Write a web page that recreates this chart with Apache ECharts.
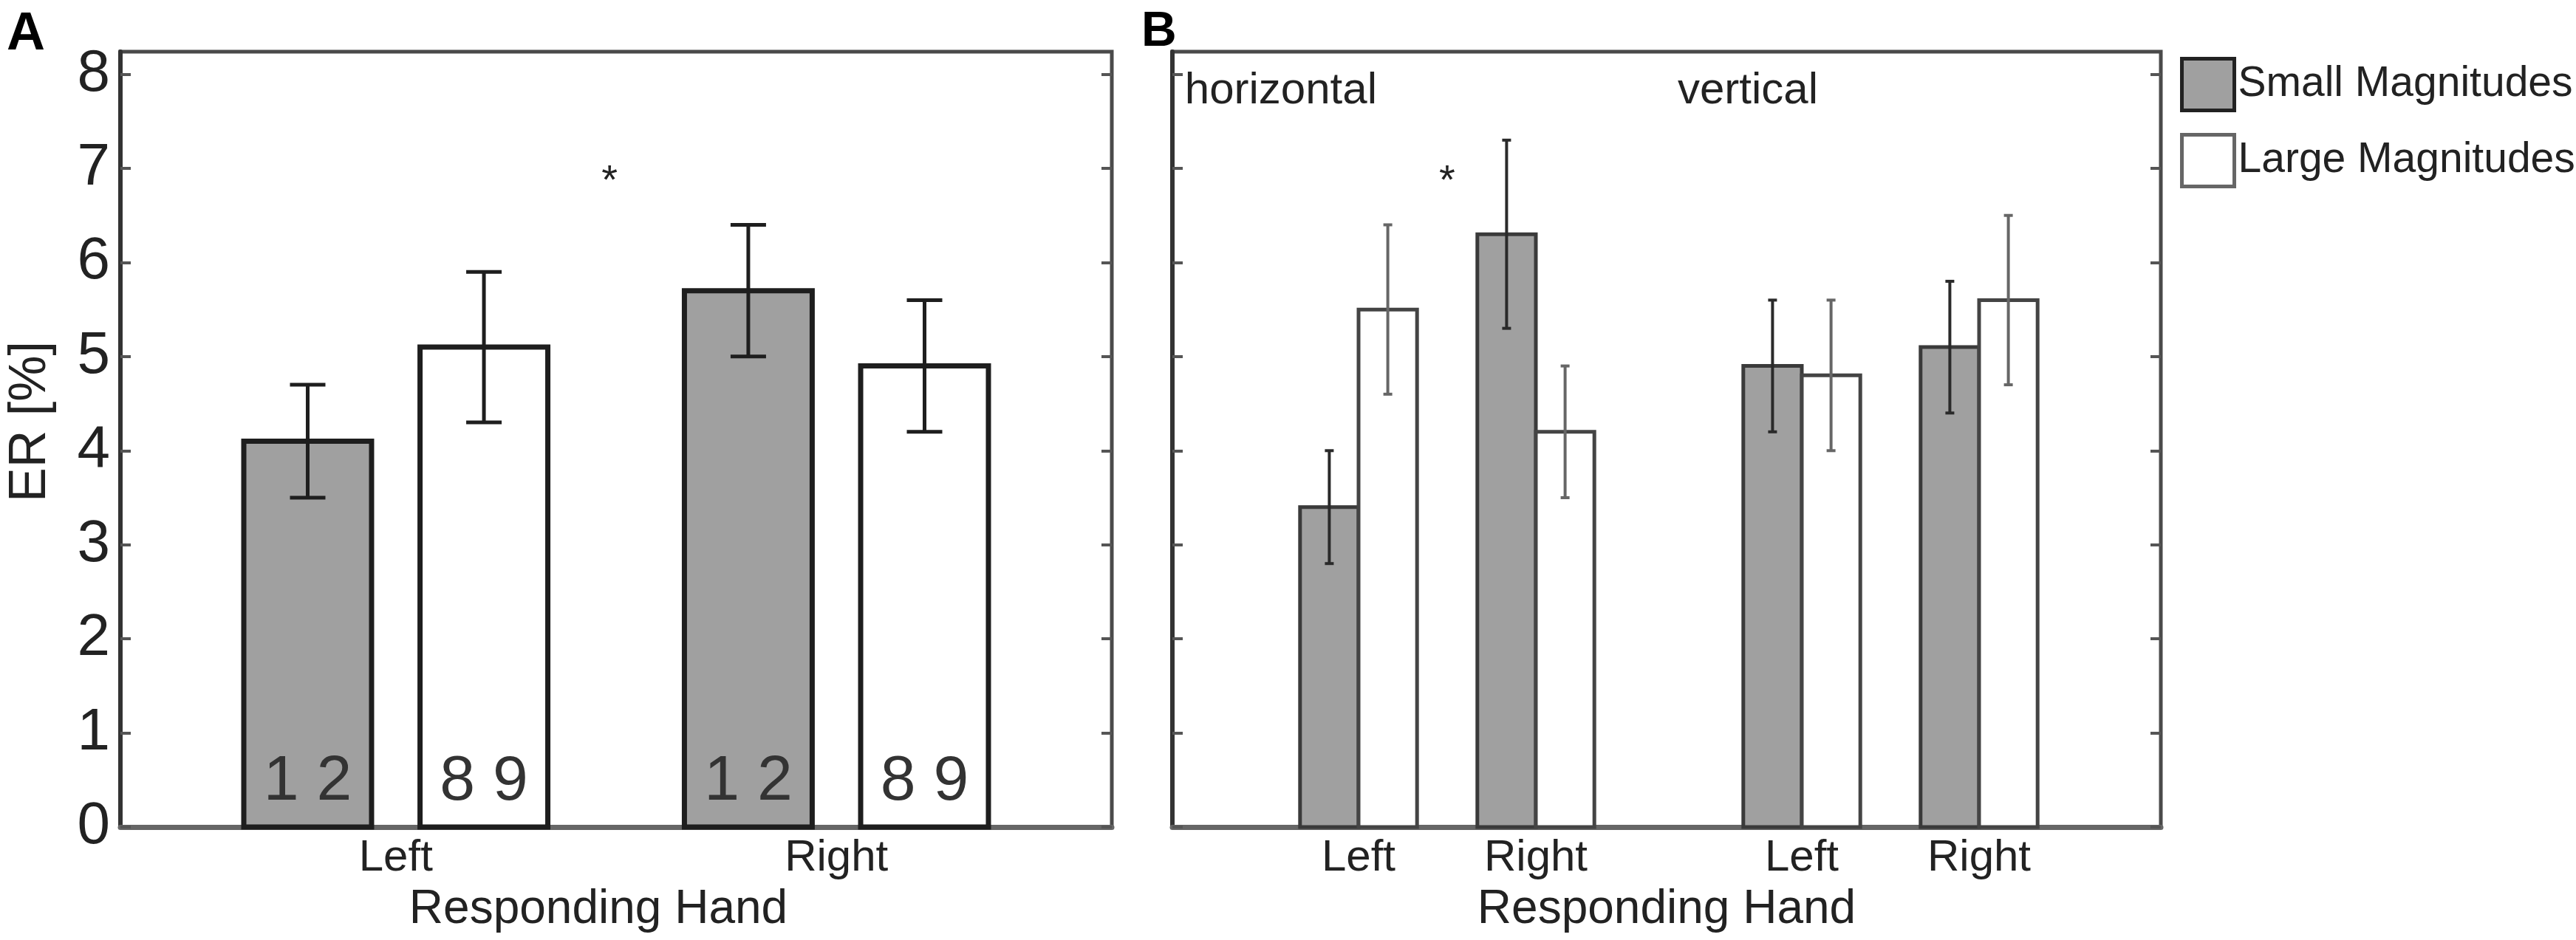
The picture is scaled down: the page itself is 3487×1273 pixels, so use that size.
<!DOCTYPE html>
<html>
<head>
<meta charset="utf-8">
<script src="https://cdn.jsdelivr.net/npm/echarts@6/dist/echarts.min.js"></script>
<style>
  html, body { margin: 0; padding: 0; background: #fff; }
  #main { width: 3487px; height: 1273px; }
</style>
</head>
<body>
<div id="main"></div>
<script>
// panel A: responding hand only
const handsA = ['Left', 'Right'];
const posA = [1, 2];
const smallA = [4.1, 5.7];
const largeA = [5.1, 4.9];
const smallLoA = [3.5, 5.0];
const smallHiA = [4.7, 6.4];
const largeLoA = [4.3, 4.2];
const largeHiA = [5.9, 5.6];
const digitsSmall = '1 2';
const digitsLarge = '8 9';

// panel B: horizontal / vertical split
const handsB = ['Left', 'Right', 'Left', 'Right'];
const posB = [1, 2, 3.5, 4.5];
const smallB = [3.4, 6.3, 4.9, 5.1];
const largeB = [5.5, 4.2, 4.8, 5.6];
const smallLoB = [2.8, 5.3, 4.2, 4.4];
const smallHiB = [4.0, 7.3, 5.6, 5.8];
const largeLoB = [4.6, 3.5, 4.0, 4.7];
const largeHiB = [6.4, 4.9, 5.6, 6.5];

// text annotations
const notesA = ['*'];
const notesAX = [1.485];
const notesAY = [6.95];
const notesB = ['*', 'horizontal', 'vertical'];
const notesBX = [1.5, 0.02, 2.8];
const notesBY = [6.95, 7.82, 7.82];

const yTicks = [0, 1, 2, 3, 4, 5, 6, 7, 8];
const FONT = '"Liberation Sans", Arial, Helvetica, sans-serif';

var chart = echarts.init(document.getElementById('main'), null, { renderer: 'canvas' });

function rows(pos, vals, lo, hi) {
  return pos.map(function (p, i) { return [p, vals[i], lo[i], hi[i]]; });
}

// bar + error bar drawn in data coordinates
function barRenderer(offset, width, fill, edge, edgeW, errColor, errW, capPx, digits) {
  return function (params, api) {
    var x = api.value(0) + offset;
    var tl = api.coord([x - width / 2, api.value(1)]);
    var br = api.coord([x + width / 2, 0]);
    var top = api.coord([x, api.value(3)]);
    var bot = api.coord([x, api.value(2)]);
    var kids = [{
      type: 'rect',
      shape: { x: tl[0], y: tl[1], width: br[0] - tl[0], height: br[1] - tl[1] },
      style: { fill: fill, stroke: edge, lineWidth: edgeW }
    }];
    if (digits) {
      var c = api.coord([x, 0.48]);
      kids.push({
        type: 'text',
        style: { text: digits, x: c[0], y: c[1], align: 'center', verticalAlign: 'middle',
                 fontSize: 86, fontFamily: FONT, fill: '#333' }
      });
    }
    var ls = { stroke: errColor, lineWidth: errW };
    kids.push({ type: 'line', shape: { x1: top[0], y1: top[1], x2: bot[0], y2: bot[1] }, style: ls });
    kids.push({ type: 'line', shape: { x1: top[0] - capPx, y1: top[1], x2: top[0] + capPx, y2: top[1] }, style: ls });
    kids.push({ type: 'line', shape: { x1: bot[0] - capPx, y1: bot[1], x2: bot[0] + capPx, y2: bot[1] }, style: ls });
    return { type: 'group', children: kids };
  };
}

function noteRenderer(texts) {
  return function (params, api) {
    var p = api.coord([api.value(0), api.value(1)]);
    var t = texts[params.dataIndex];
    var star = t === '*';
    return {
      type: 'text',
      style: { text: t, x: p[0], y: p[1] + (star ? 12 : 0), align: star ? 'center' : 'left',
               verticalAlign: 'middle', fontSize: star ? 56 : 60, fontFamily: FONT, fill: '#222' }
    };
  };
}

function yAxisPair(grid, labels, nameText) {
  var base = {
    gridIndex: grid, type: 'value', min: 0, max: 8.24,
    splitLine: { show: false },
    axisTick: { inside: true, length: 14, customValues: yTicks, lineStyle: { color: '#555', width: 4 } }
  };
  var left = Object.assign({}, base, {
    position: 'left',
    axisLine: { show: true, onZero: false, lineStyle: { color: '#333', width: 6 } },
    axisLabel: { show: labels, customValues: yTicks, fontSize: 80, margin: 14, color: '#222', fontFamily: FONT }
  });
  if (nameText) {
    left.name = nameText;
    left.nameLocation = 'middle';
    left.nameRotate = 90;
    left.nameGap = 86;
    left.nameTextStyle = { fontSize: 70, color: '#222', fontFamily: FONT, padding: [0, 0, 0, 48] };
  }
  var right = Object.assign({}, base, {
    position: 'right',
    axisLine: { show: false, onZero: false },
    axisLabel: { show: false }
  });
  return [left, right];
}

function xAxisFor(grid, min, max, pos, names, namePad) {
  return {
    gridIndex: grid, type: 'value', min: min, max: max,
    splitLine: { show: false },
    axisTick: { show: false },
    axisLine: { show: true, onZero: false, lineStyle: { color: '#666', width: 7 } },
    axisLabel: {
      customValues: pos, margin: 12, fontSize: 60, color: '#222', fontFamily: FONT,
      formatter: function (v) { return names[pos.indexOf(v)]; }
    },
    name: 'Responding Hand', nameLocation: 'middle', nameGap: 80,
    nameTextStyle: { fontSize: 64, color: '#222', fontFamily: FONT, padding: namePad }
  };
}

var option = {
  backgroundColor: '#fff',
  animation: false,
  title: [
    { text: 'A', left: 4, top: 6, textStyle: { fontSize: 72, fontWeight: 'bold', color: '#000', fontFamily: FONT } },
    { text: 'B', left: 1540, top: 6, textStyle: { fontSize: 66, fontWeight: 'bold', color: '#000', fontFamily: FONT } }
  ],
  legend: {
    orient: 'vertical', left: 2946, top: 72,
    itemWidth: 71, itemHeight: 70, itemGap: 28,
    selectedMode: false,
    textStyle: { fontSize: 57, color: '#222', fontFamily: FONT, padding: [28, 0, 0, 0] },
    data: [
      { name: 'Small Magnitudes', icon: 'rect', itemStyle: { color: '#a0a0a0', borderColor: '#222', borderWidth: 5 } },
      { name: 'Large Magnitudes', icon: 'rect', itemStyle: { color: '#fff', borderColor: '#666', borderWidth: 5 } }
    ]
  },
  grid: [
    { left: 163, top: 70, width: 1342, height: 1050, show: true, borderColor: '#4a4a4a', borderWidth: 5, backgroundColor: '#fff' },
    { left: 1587, top: 70, width: 1338, height: 1050, show: true, borderColor: '#4a4a4a', borderWidth: 5, backgroundColor: '#fff' }
  ],
  xAxis: [
    xAxisFor(0, 0.375, 2.625, posA, handsA, [0, 48, 0, 0]),
    xAxisFor(1, -0.05, 5.525, posB, handsB, [0, 0, 0, 0])
  ],
  yAxis: yAxisPair(0, true, 'ER [%]').concat(yAxisPair(1, false, null)),
  series: [
    {
      name: 'Small Magnitudes', type: 'custom', xAxisIndex: 0, yAxisIndex: 0,
      itemStyle: { color: '#a0a0a0' },
      renderItem: barRenderer(-0.2, 0.29, '#a0a0a0', '#1e1e1e', 7, '#1e1e1e', 5, 24, digitsSmall),
      data: rows(posA, smallA, smallLoA, smallHiA)
    },
    {
      name: 'Large Magnitudes', type: 'custom', xAxisIndex: 0, yAxisIndex: 0,
      itemStyle: { color: '#fff' },
      renderItem: barRenderer(0.2, 0.29, '#fff', '#1e1e1e', 7, '#1e1e1e', 5, 24, digitsLarge),
      data: rows(posA, largeA, largeLoA, largeHiA)
    },
    {
      name: 'notesA', type: 'custom', xAxisIndex: 0, yAxisIndex: 0,
      renderItem: noteRenderer(notesA),
      data: notesAX.map(function (x, i) { return [x, notesAY[i]]; })
    },
    {
      name: 'Small Magnitudes', type: 'custom', xAxisIndex: 1, yAxisIndex: 2,
      itemStyle: { color: '#a0a0a0' },
      renderItem: barRenderer(-0.165, 0.33, '#a0a0a0', '#3a3a3a', 5, '#2a2a2a', 4, 6, null),
      data: rows(posB, smallB, smallLoB, smallHiB)
    },
    {
      name: 'Large Magnitudes', type: 'custom', xAxisIndex: 1, yAxisIndex: 2,
      itemStyle: { color: '#fff' },
      renderItem: barRenderer(0.165, 0.33, '#fff', '#444', 5, '#666', 4, 6, null),
      data: rows(posB, largeB, largeLoB, largeHiB)
    },
    {
      name: 'notesB', type: 'custom', xAxisIndex: 1, yAxisIndex: 2,
      renderItem: noteRenderer(notesB),
      data: notesBX.map(function (x, i) { return [x, notesBY[i]]; })
    }
  ]
};

chart.setOption(option);
</script>
</body>
</html>
